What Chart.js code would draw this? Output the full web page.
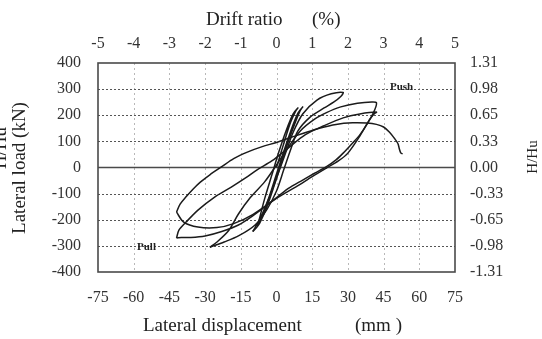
<!DOCTYPE html>
<html>
<head>
<meta charset="utf-8">
<script src="https://cdn.jsdelivr.net/npm/chart.js@4.4.0/dist/chart.umd.min.js"></script>
<style>
html, body { margin: 0; padding: 0; background: #fff; }
#wrap { width: 542px; height: 339px; }
</style>
</head>
<body>
<div id="wrap"><canvas id="hyst" width="542" height="339"></canvas></div>
<script>
// tick labels
const dispTicks = [-75, -60, -45, -30, -15, 0, 15, 30, 45, 60, 75];
const driftTicks = ['-5', '-4', '-3', '-2', '-1', '0', '1', '2', '3', '4', '5'];
const loadTicks = [-400, -300, -200, -100, 0, 100, 200, 300, 400];
const ratioTicks = ['-1.31', '-0.98', '-0.65', '-0.33', '0.00', '0.33', '0.65', '0.98', '1.31'];

const smallDisp = [0, 2, 4, 6, 8, 9, 7, 4, 1, -2, -5, -7, -8, -7, -4, -1, 2, 5, 8, 10, 11, 9, 6, 3, 0, -3, -6, -8, -10];
const smallLoad = [0, 60, 120, 175, 215, 228, 205, 140, 60, -30, -120, -190, -225, -212, -150, -70, 15, 100, 175, 218, 232, 208, 140, 60, -25, -110, -180, -225, -245];

const cycle30Disp = [-10, -8, -5, -2, 1, 4, 7, 11, 17, 23, 28, 27, 24, 20, 14, 9, 6, 3, 0, -4, -9, -16, -22, -28];
const cycle30Load = [-245, -215, -160, -90, -15, 60, 135, 205, 258, 282, 287, 272, 250, 228, 192, 140, 70, -10, -90, -160, -220, -262, -285, -305];

const cycle45aDisp = [-28, -25, -20, -16, -11, -5, 0, 5, 10, 16, 21, 27, 34, 40, 42, 41, 38, 35, 32, 28, 25, 21, 16, 11, 5, -2, -10, -16, -23, -30, -36, -40, -42];
const cycle45aLoad = [-305, -285, -240, -178, -115, -55, 10, 78, 140, 185, 210, 232, 246, 251, 248, 215, 165, 125, 94, 55, 29, 3, -22, -48, -80, -130, -185, -220, -245, -262, -268, -268, -270];

const cycle45bDisp = [-42, -41, -38, -33, -26, -19, -13, -8, -2, 5, 12, 20, 28, 35, 42, 41, 39, 35, 30, 26, 21, 15, 8, 0, -10, -18, -25, -33, -39, -42];
const cycle45bLoad = [-270, -240, -209, -163, -113, -75, -40, -8, 25, 75, 125, 160, 190, 205, 212, 205, 182, 120, 55, 25, -2, -35, -75, -118, -180, -215, -230, -228, -209, -171];

const finalDisp = [-42, -40.5, -38, -35, -32, -28, -23, -18, -12, -6, 0, 5, 11, 18, 25, 32, 38, 42, 45, 47.5, 49.5, 51, 51.6, 52.2, 53];
const finalLoad = [-171, -140, -112, -82, -56, -28, 3, 34, 60, 80, 96, 112, 130, 150, 165, 171, 170, 165, 155, 135, 112, 92, 72, 56, 52];

const serif = '"Liberation Serif", "Times New Roman", serif';
const inkColor = '#1b1b1b';

function toPoints(xs, ys) {
    return xs.map((x, i) => ({ x: x, y: ys[i] }));
}

const stages = [
    [smallDisp, smallLoad],
    [cycle30Disp, cycle30Load],
    [cycle45aDisp, cycle45aLoad],
    [cycle45bDisp, cycle45bLoad],
    [finalDisp, finalLoad]
];

const datasets = stages.map(s => ({
    data: toPoints(s[0], s[1]),
    showLine: true,
    borderColor: inkColor,
    borderWidth: 1.5,
    pointRadius: 0,
    tension: 0.3,
    xAxisID: 'x',
    yAxisID: 'y'
}));

// grid, frame and titles
const framePlugin = {
    id: 'framePlugin',
    beforeDatasetsDraw(chart) {
        const ctx = chart.ctx;
        const a = chart.chartArea;
        const sx = chart.scales.x;
        const sy = chart.scales.y;
        ctx.save();
        ctx.lineWidth = 1;
        ctx.strokeStyle = '#b8b8b8';
        ctx.setLineDash([2, 3]);
        dispTicks.slice(1, -1).forEach(v => {
            const x = Math.round(sx.getPixelForValue(v)) + 0.5;
            ctx.beginPath();
            ctx.moveTo(x, a.top);
            ctx.lineTo(x, a.bottom);
            ctx.stroke();
        });
        ctx.strokeStyle = '#555';
        ctx.setLineDash([2, 2]);
        loadTicks.filter(v => v !== 0 && Math.abs(v) !== 400).forEach(v => {
            const y = Math.round(sy.getPixelForValue(v)) + 0.5;
            ctx.beginPath();
            ctx.moveTo(a.left, y);
            ctx.lineTo(a.right, y);
            ctx.stroke();
        });
        ctx.setLineDash([]);
        ctx.strokeStyle = '#4a4a4a';
        ctx.lineWidth = 1.6;
        const y0 = sy.getPixelForValue(0);
        ctx.beginPath();
        ctx.moveTo(a.left, y0);
        ctx.lineTo(a.right, y0);
        ctx.stroke();
        ctx.strokeRect(a.left, a.top, a.width, a.height);
        ctx.restore();
    },
    afterDraw(chart) {
        const ctx = chart.ctx;
        ctx.save();
        ctx.fillStyle = '#222';
        ctx.textBaseline = 'middle';
        ctx.font = '19px ' + serif;
        ctx.textAlign = 'left';
        ctx.fillText('Drift ratio', 206, 20);
        ctx.fillText('(%)', 312, 20);
        ctx.fillText('Lateral displacement', 143, 326);
        ctx.fillText('(mm )', 355, 326);

        ctx.textAlign = 'center';
        ctx.save();
        ctx.translate(20, 168);
        ctx.rotate(-Math.PI / 2);
        ctx.fillText('Lateral load (kN)', 0, 0);
        ctx.restore();

        ctx.save();
        ctx.translate(1, 148);
        ctx.rotate(-Math.PI / 2);
        ctx.fillText('H/Hu', 0, 0);
        ctx.restore();

        ctx.font = '15px ' + serif;
        ctx.save();
        ctx.translate(533, 157);
        ctx.rotate(-Math.PI / 2);
        ctx.fillText('H/Hu', 0, 0);
        ctx.restore();

        ctx.font = 'bold 11px ' + serif;
        ctx.textAlign = 'left';
        ctx.fillText('Push', 390, 87);
        ctx.fillText('Pull', 137, 247);
        ctx.restore();
    }
};

const tickFont = { family: serif, size: 16 };

const chart = new Chart(document.getElementById('hyst'), {
    type: 'scatter',
    data: { datasets: datasets },
    options: {
        responsive: false,
        animation: false,
        devicePixelRatio: 1,
        layout: { padding: 0 },
        plugins: {
            legend: { display: false },
            tooltip: { enabled: false }
        },
        scales: {
            x: {
                type: 'linear',
                position: 'bottom',
                min: -75,
                max: 75,
                afterBuildTicks: s => { s.ticks = dispTicks.map(v => ({ value: v })); },
                afterFit: s => { s.height = 67; },
                grid: { display: false, drawTicks: false },
                border: { display: false },
                ticks: { font: tickFont, color: '#333', padding: 16, maxRotation: 0, autoSkip: false }
            },
            x2: {
                type: 'linear',
                position: 'top',
                min: -75,
                max: 75,
                afterBuildTicks: s => { s.ticks = dispTicks.map(v => ({ value: v })); },
                afterFit: s => { s.height = 63; },
                grid: { display: false, drawTicks: false },
                border: { display: false },
                ticks: {
                    font: tickFont, color: '#333', padding: 10, maxRotation: 0, autoSkip: false,
                    callback: (v, i) => driftTicks[i]
                }
            },
            y: {
                type: 'linear',
                position: 'left',
                min: -400,
                max: 400,
                afterBuildTicks: s => { s.ticks = loadTicks.map(v => ({ value: v })); },
                afterFit: s => { s.width = 98; },
                grid: { display: false, drawTicks: false },
                border: { display: false },
                ticks: { font: tickFont, color: '#333', padding: 17, autoSkip: false }
            },
            y2: {
                type: 'linear',
                position: 'right',
                min: -400,
                max: 400,
                afterBuildTicks: s => { s.ticks = loadTicks.map(v => ({ value: v })); },
                afterFit: s => { s.width = 87; },
                grid: { display: false, drawTicks: false },
                border: { display: false },
                ticks: {
                    font: tickFont, color: '#333', padding: 15, autoSkip: false,
                    callback: (v, i) => ratioTicks[i]
                }
            }
        }
    },
    plugins: [framePlugin]
});
</script>
</body>
</html>
